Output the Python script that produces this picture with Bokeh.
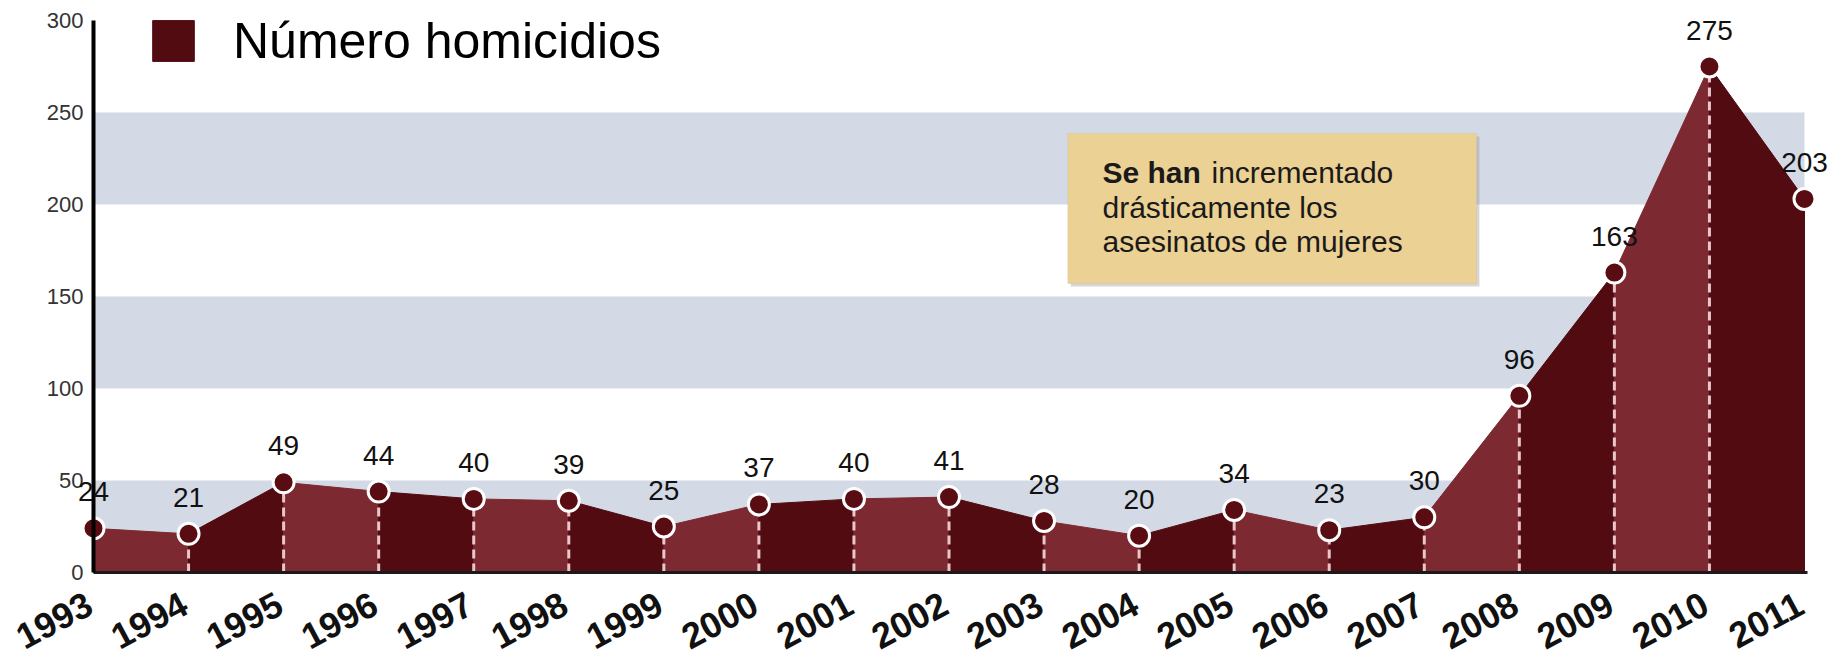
import math
from bokeh.plotting import figure
from bokeh.models import (ColumnDataSource, Range1d, FixedTicker, BoxAnnotation,
                          Label, LabelSet, Legend, LegendItem)
from bokeh.core.properties import value
from bokeh.embed import file_html
from bokeh.resources import INLINE

# ---- data ----
years = [1993, 1994, 1995, 1996, 1997, 1998, 1999, 2000, 2001, 2002,
         2003, 2004, 2005, 2006, 2007, 2008, 2009, 2010, 2011]
homicidios = [24, 21, 49, 44, 40, 39, 25, 37, 40, 41,
              28, 20, 34, 23, 30, 96, 163, 275, 203]
year_labels = [str(y) for y in years]
value_labels = [str(v) for v in homicidios]
y_ticks = [0, 50, 100, 150, 200, 250, 300]
series_name = "Número homicidios"
note_bold = "Se han"
note_lines = ["incrementado", "drásticamente los", "asesinatos de mujeres"]

# ---- layout geometry (pixels) ----
W, H = 1840, 656
X0_PX, X1_PX = 93.0, 1804.0      # pixel of first / last year
Y0_PX, YTOP_PX = 572.0, 20.0     # pixel of value 0 / value 300
YMAX = 300.0
ppx = (X1_PX - X0_PX) / (years[-1] - years[0])
ppy = (Y0_PX - YTOP_PX) / YMAX
x_start = years[0] - X0_PX / ppx
x_end = years[-1] + (W - X1_PX) / ppx
y_end = YMAX + YTOP_PX / ppy
y_start = -(H - Y0_PX) / ppy

FONT = "Liberation Sans"
LIGHT = "#7d2931"
DARK = "#520b10"
BAND = "#d3dae6"

p = figure(width=W, height=H, output_backend="svg", toolbar_location=None,
           x_range=Range1d(x_start, x_end), y_range=Range1d(y_start, y_end),
           min_border_left=0, min_border_right=0, min_border_top=0,
           min_border_bottom=0)
p.grid.visible = False
p.outline_line_color = None
p.background_fill_color = "white"
p.border_fill_color = "white"

# horizontal bands
for b0, b1 in [(0, 50), (100, 150), (200, 250)]:
    p.add_layout(BoxAnnotation(bottom=b0, top=b1, left=years[0], right=years[-1],
                               fill_color=BAND, fill_alpha=1,
                               line_color=None, level="underlay"))

# alternating filled segments of the area
n = len(years)
seg_src = ColumnDataSource(dict(
    xs=[[years[i], years[i], years[i + 1], years[i + 1]] for i in range(n - 1)],
    ys=[[0, homicidios[i], homicidios[i + 1], 0] for i in range(n - 1)],
    color=[LIGHT if i % 2 == 0 else DARK for i in range(n - 1)],
))
area_r = p.patches("xs", "ys", source=seg_src, fill_color="color",
                   line_color="color", line_width=1)

# dashed drop lines
drop_src = ColumnDataSource(dict(x=years[1:-1], top=homicidios[1:-1]))
p.segment(x0="x", y0=0, x1="x", y1="top", source=drop_src,
          line_color="#e8c6ca", line_width=3, line_dash="9 5")

# axes (fixed inside the frame)
p.yaxis.fixed_location = years[0]
p.yaxis.bounds = (0, YMAX)
p.yaxis.ticker = FixedTicker(ticks=y_ticks)
p.yaxis.major_tick_in = 0
p.yaxis.major_tick_out = 0
p.yaxis.minor_tick_in = 0
p.yaxis.minor_tick_out = 0
p.yaxis.axis_line_width = 4
p.yaxis.axis_line_color = "black"
p.yaxis.major_label_text_font = FONT
p.yaxis.major_label_text_font_size = "22px"
p.yaxis.major_label_text_color = "#333333"
p.yaxis.major_label_standoff = 10

p.xaxis.fixed_location = 0
p.xaxis.bounds = (years[0], years[-1] + 0.03)
p.xaxis.ticker = FixedTicker(ticks=[])
p.xaxis.major_tick_in = 0
p.xaxis.major_tick_out = 0
p.xaxis.minor_tick_in = 0
p.xaxis.minor_tick_out = 0
p.xaxis.axis_line_width = 3
p.xaxis.axis_line_color = "#1a1a1a"

# points
pt_src = ColumnDataSource(dict(x=years, y=homicidios, label=value_labels))
p.scatter("x", "y", source=pt_src, marker="circle", size=21,
          fill_color="#5a0c13", line_color="white", line_width=3)

# value labels
p.add_layout(LabelSet(x="x", y="y", text="label", source=pt_src, y_offset=27,
                      text_align="center", text_baseline="alphabetic",
                      text_font=value(FONT), text_font_size=value("28px"),
                      text_color="#111111"))

# year labels (rotated)
yr_src = ColumnDataSource(dict(x=years, text=year_labels))
p.add_layout(LabelSet(x="x", y=0, text="text", source=yr_src,
                      x_offset=2, y_offset=-40,
                      angle=math.radians(28), text_align="right",
                      text_baseline="alphabetic",
                      text_font=value(FONT), text_font_size=value("36px"),
                      text_font_style="bold", text_color="#111111"))

# annotation box
p.add_layout(BoxAnnotation(left=2003.28, right=2007.58, bottom=155.5, top=237.0,
                           fill_color="#8a8a8a", fill_alpha=0.35, line_color=None))
p.add_layout(BoxAnnotation(left=2003.25, right=2007.55, bottom=157.1, top=238.6,
                           fill_color="#ebd193", fill_alpha=1,
                           line_color="#cbbf98", line_width=1))
note_x = 2003.615
note_y = [217.3, 198.2, 180.1]
p.add_layout(Label(x=note_x, y=note_y[0], text=note_bold, text_font=FONT,
                   text_font_size="30px", text_font_style="bold",
                   text_color="#1a1a1a", text_baseline="alphabetic"))
p.add_layout(Label(x=note_x, y=note_y[0], x_offset=109, text=note_lines[0],
                   text_font=FONT, text_font_size="30px", text_color="#1a1a1a",
                   text_baseline="alphabetic"))
for t, yy in zip(note_lines[1:], note_y[1:]):
    p.add_layout(Label(x=note_x, y=yy, text=t, text_font=FONT,
                       text_font_size="30px", text_color="#1a1a1a",
                       text_baseline="alphabetic"))

# legend
legend = Legend(items=[LegendItem(label=series_name, renderers=[area_r], index=1)],
                location=(147, H - 69.5), padding=0, margin=0, spacing=0,
                border_line_color=None, background_fill_alpha=0,
                glyph_width=52, glyph_height=51, label_standoff=34,
                label_text_font=FONT, label_text_font_size="50px",
                label_text_color="black")
p.add_layout(legend, "center")

open("out.html", "w").write(file_html(p, INLINE))
